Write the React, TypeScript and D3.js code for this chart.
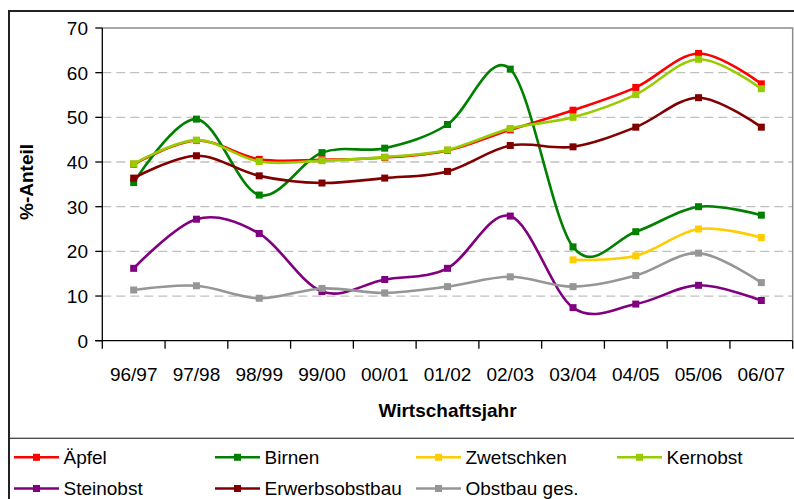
import * as d3 from 'd3'

const categories = ['96/97', '97/98', '98/99', '99/00', '00/01', '01/02', '02/03', '03/04', '04/05', '05/06', '06/07']

const aepfel = [39.5, 44.8, 40.6, 40.5, 41.0, 42.6, 47.2, 51.6, 56.7, 64.3, 57.5]
const birnen = [35.4, 49.6, 32.6, 42.1, 43.1, 48.4, 60.8, 21.0, 24.4, 30.0, 28.1]
const zwetschken = [null, null, null, null, null, null, null, 18.1, 19.0, 25.0, 23.1]
const kernobst = [39.6, 44.9, 40.1, 40.3, 41.1, 42.7, 47.5, 50.0, 55.1, 63.0, 56.4]
const steinobst = [16.2, 27.2, 24.0, 11.0, 13.7, 16.2, 27.9, 7.4, 8.2, 12.4, 9.0]
const erwerbsobstbau = [36.4, 41.4, 36.9, 35.3, 36.4, 37.9, 43.7, 43.4, 47.8, 54.4, 47.8]
const obstbauGes = [11.35, 12.3, 9.5, 11.7, 10.7, 12.1, 14.3, 12.1, 14.6, 19.6, 13.0]

const yTicks = [0, 10, 20, 30, 40, 50, 60, 70]

const series = [
  { name: 'Äpfel', color: '#ff0000', values: aepfel },
  { name: 'Birnen', color: '#008000', values: birnen },
  { name: 'Zwetschken', color: '#ffcc00', values: zwetschken },
  { name: 'Kernobst', color: '#99cc00', values: kernobst },
  { name: 'Steinobst', color: '#800080', values: steinobst },
  { name: 'Erwerbsobstbau', color: '#800000', values: erwerbsobstbau },
  { name: 'Obstbau ges.', color: '#969696', values: obstbauGes },
]

const font = '"Liberation Sans", Arial, sans-serif'

export default function App() {
  const width = 794
  const height = 499
  const plot = { left: 102.3, right: 792.7, top: 28, bottom: 340.7 }

  const x = d3.scaleBand<string>().domain(categories).range([plot.left, plot.right])
  const y = d3.scaleLinear().domain([0, 70]).range([plot.bottom, plot.top])
  const cx = (i: number) => (x(categories[i]) || 0) + x.bandwidth() / 2

  const line = d3
    .line<number | null>()
    .defined((d) => d != null)
    .x((_, i) => cx(i))
    .y((d) => y(d as number))
    .curve(d3.curveCardinal.tension(0))

  const ms = 7

  return (
    <svg
      width={width}
      height={height}
      style={{ position: 'absolute', left: 0, top: 0, display: 'block', background: '#fff' }}
      fontFamily={font}
    >
      {/* chart frame */}
      <rect x={9} y={11} width={800} height={500} fill="#fff" stroke="#222" strokeWidth={2} />

      {/* grid */}
      {yTicks.slice(1, -1).map((t) => (
        <line
          key={t}
          x1={plot.left}
          x2={plot.right}
          y1={y(t)}
          y2={y(t)}
          stroke="#c0c0c0"
          strokeWidth={1.3}
          strokeDasharray="9,5"
        />
      ))}
      {/* plot border */}
      <path
        d={`M${plot.left},${plot.top}H${plot.right}V${plot.bottom}`}
        fill="none"
        stroke="#8c8c8c"
        strokeWidth={1.5}
      />
      {/* axes */}
      <line x1={plot.left} x2={plot.left} y1={plot.top} y2={plot.bottom + 8} stroke="#000" strokeWidth={1.3} />
      <line x1={plot.left - 7} x2={plot.right} y1={plot.bottom} y2={plot.bottom} stroke="#000" strokeWidth={1.3} />
      {yTicks.map((t) => (
        <g key={t}>
          <line x1={plot.left - 7} x2={plot.left} y1={y(t)} y2={y(t)} stroke="#000" strokeWidth={1.3} />
          <text x={88} y={y(t) + 7} textAnchor="end" fontSize={19} fill="#000">
            {t}
          </text>
        </g>
      ))}
      {categories.map((c, i) => (
        <g key={c}>
          <line
            x1={(x(c) || 0) + x.bandwidth()}
            x2={(x(c) || 0) + x.bandwidth()}
            y1={plot.bottom}
            y2={plot.bottom + 8}
            stroke="#000"
            strokeWidth={1.3}
          />
          <text x={cx(i)} y={380.5} textAnchor="middle" fontSize={19} fill="#000">
            {c}
          </text>
        </g>
      ))}

      {/* axis titles */}
      <text
        x={(plot.left + plot.right) / 2}
        y={416.5}
        textAnchor="middle"
        fontSize={19}
        fontWeight="bold"
      >
        Wirtschaftsjahr
      </text>
      <text
        transform="translate(33,182) rotate(-90)"
        textAnchor="middle"
        fontSize={19}
        fontWeight="bold"
      >
        %-Anteil
      </text>

      {/* series */}
      {series.map((s) => (
        <g key={s.name}>
          <path d={line(s.values) || ''} fill="none" stroke={s.color} strokeWidth={2.6} />
          {s.values.map((v, i) =>
            v == null ? null : (
              <rect key={i} x={cx(i) - ms / 2} y={y(v) - ms / 2} width={ms} height={ms} fill={s.color} />
            )
          )}
        </g>
      ))}

      {/* legend */}
      <rect x={9} y={438.3} width={800} height={100} fill="#fff" stroke="#444" strokeWidth={1.3} />
      <line x1={9} x2={9} y1={438} y2={499} stroke="#222" strokeWidth={2} />
      {series.map((s, i) => {
        const col = i % 4
        const row = Math.floor(i / 4)
        const lx = 14 + col * 201
        const ly = 457.3 + row * 31.2
        return (
          <g key={s.name}>
            <line x1={lx} x2={lx + 45} y1={ly} y2={ly} stroke={s.color} strokeWidth={2.6} />
            <rect x={lx + 22.5 - ms / 2} y={ly - ms / 2} width={ms} height={ms} fill={s.color} />
            <text x={lx + 49.5} y={ly + 6.5} fontSize={19} fill="#000">
              {s.name}
            </text>
          </g>
        )
      })}
    </svg>
  )
}
